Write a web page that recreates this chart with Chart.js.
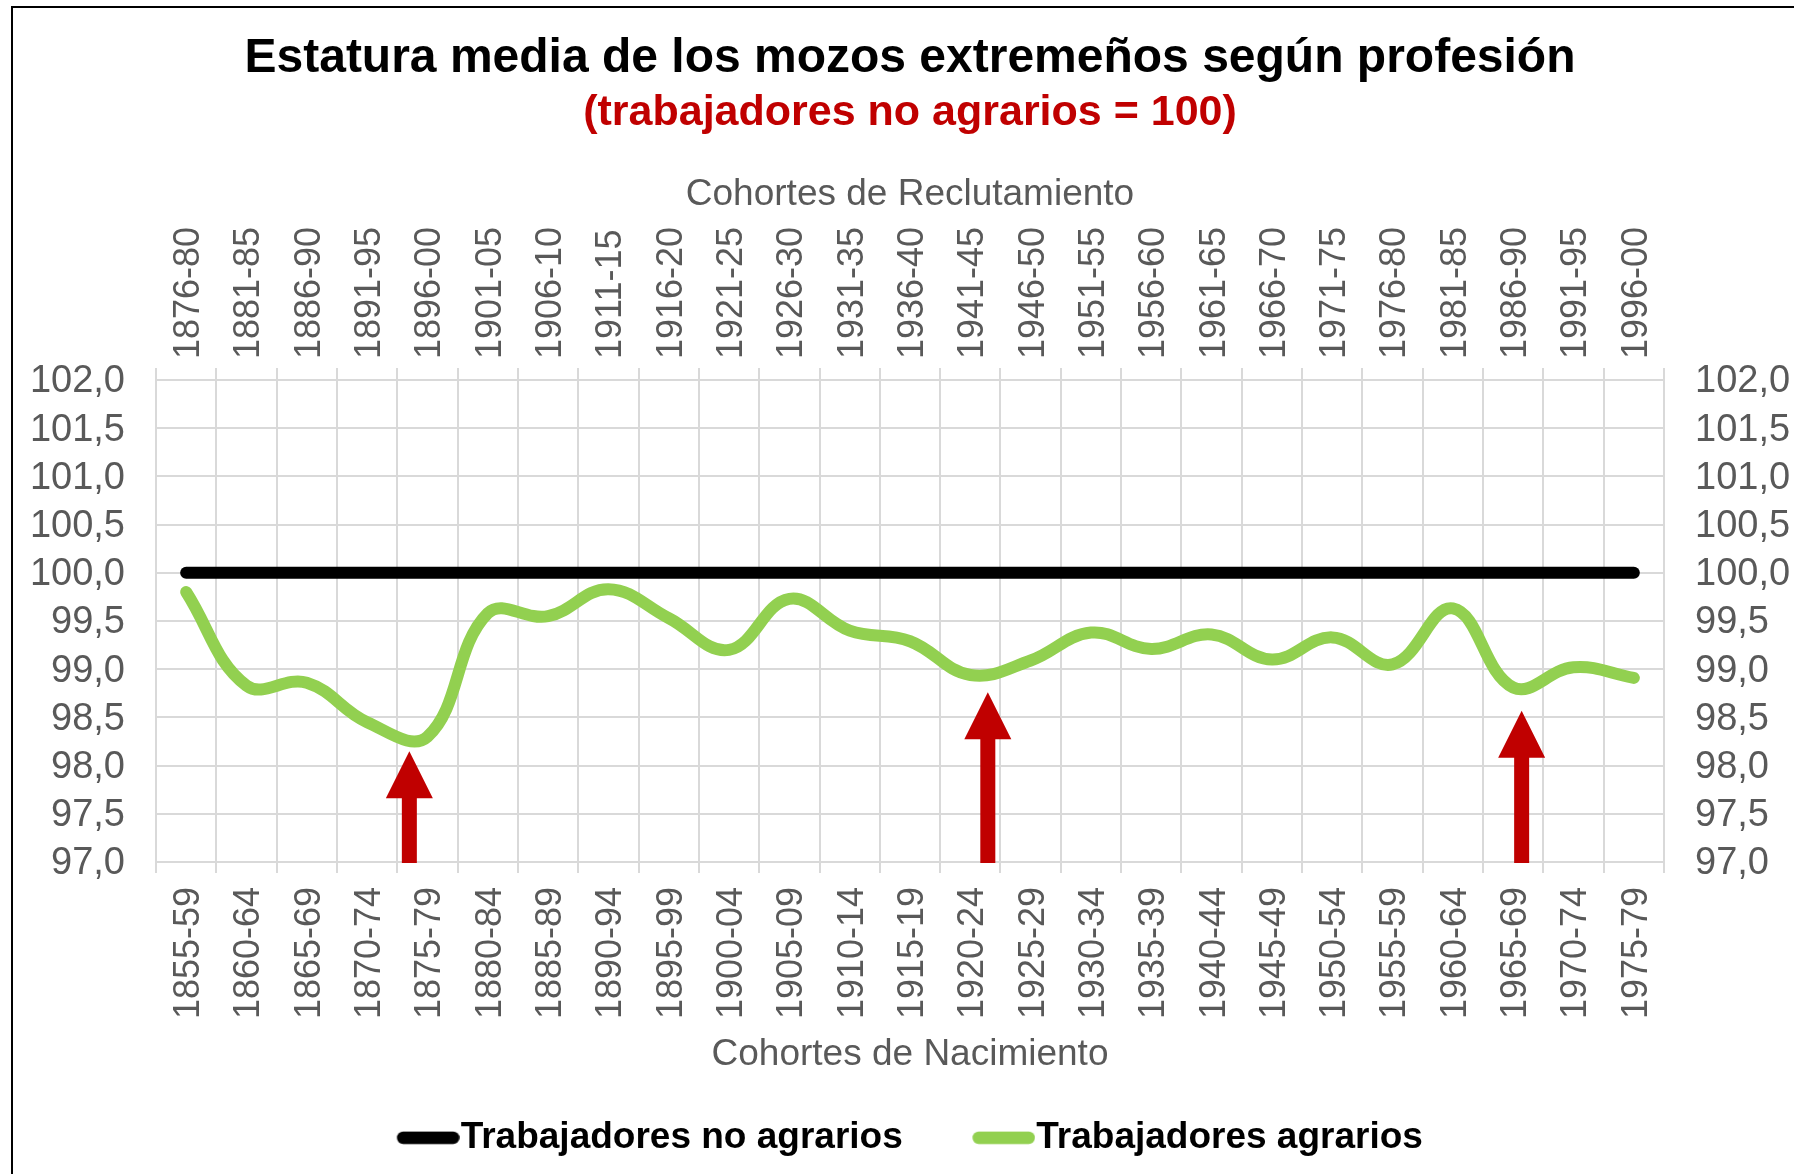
<!DOCTYPE html>
<html lang="es">
<head>
<meta charset="utf-8">
<title>Estatura media de los mozos extremeños según profesión</title>
<script src="https://cdn.jsdelivr.net/npm/chart.js@4.4.1/dist/chart.umd.min.js"></script>
<style>
  html, body { margin: 0; padding: 0; background: #fff; overflow: hidden; }
  #wrap { position: relative; width: 1794px; height: 1174px; overflow: hidden; }
  #myChart { position: absolute; left: 0; top: 0; }
  #frame { position: absolute; left: 11px; top: 6px; width: 2000px; height: 2000px;
           border-top: 2px solid #000; border-left: 2px solid #000; pointer-events: none; }
</style>
</head>
<body>
<div id="wrap">
  <canvas id="myChart" width="1820" height="1174"></canvas>
  <div id="frame"></div>
</div>
<script>
'use strict'

// birth cohorts (bottom axis) and recruitment cohorts (top axis)
let nacimiento = ['1855-59', '1860-64', '1865-69', '1870-74', '1875-79', '1880-84', '1885-89',
  '1890-94', '1895-99', '1900-04', '1905-09', '1910-14', '1915-19', '1920-24', '1925-29',
  '1930-34', '1935-39', '1940-44', '1945-49', '1950-54', '1955-59', '1960-64', '1965-69',
  '1970-74', '1975-79'];
let reclutamiento = ['1876-80', '1881-85', '1886-90', '1891-95', '1896-00', '1901-05', '1906-10',
  '1911-15', '1916-20', '1921-25', '1926-30', '1931-35', '1936-40', '1941-45', '1946-50',
  '1951-55', '1956-60', '1961-65', '1966-70', '1971-75', '1976-80', '1981-85', '1986-90',
  '1991-95', '1996-00'];

let noAgrarios = [100, 100, 100, 100, 100, 100, 100, 100, 100, 100, 100, 100, 100,
  100, 100, 100, 100, 100, 100, 100, 100, 100, 100, 100, 100];
let agrarios = [99.80, 98.83, 98.86, 98.45, 98.30, 99.58, 99.55, 99.83, 99.53, 99.20, 99.73, 99.40,
  99.29, 98.94, 99.09, 99.38, 99.21, 99.36, 99.10, 99.33, 99.05, 99.63, 98.81, 99.02, 98.91];

// red arrows: position on the cohort axis and the value their tip reaches
let arrowAt = [3.70, 13.29, 22.14];
let arrowTip = [98.15, 98.76, 98.57];

let yMin = 97;
let yMax = 102;
let yStep = 0.5;

let grey = '#595959';
let gridColor = '#d9d9d9';
let colors = ['#000000', '#92D050'];

Chart.defaults.font.family = "'Liberation Sans', Arial, sans-serif";

function formatTick(value) {
    return value.toFixed(1).replace('.', ',');
}

// pill shaped legend marker, drawn so it runs up to the label text
function legendMarker(color) {
    let c = document.createElement('canvas');
    c.width = 80;
    c.height = 14;
    let g = c.getContext('2d');
    g.strokeStyle = color;
    g.lineWidth = 12.5;
    g.lineCap = 'round';
    g.beginPath();
    g.moveTo(23.5, 7);
    g.lineTo(73.5, 7);
    g.stroke();
    return c;
}
let markers = colors.map(legendMarker);

// draws the arrows with the chart's own scales
let arrowPlugin = {
    id: 'arrows',
    afterDatasetsDraw(chart) {
        let ctx = chart.ctx;
        let x = chart.scales.x;
        let y = chart.scales.y;
        ctx.save();
        ctx.fillStyle = '#C00000';
        for (let i = 0; i < arrowAt.length; i++) {
            let cx = x.getPixelForValue(arrowAt[i]);
            let tip = y.getPixelForValue(arrowTip[i]);
            let bottom = y.getPixelForValue(yMin) + 1;
            let headH = 47;
            let headW = 23.5;
            let shaftW = 7.5;
            ctx.beginPath();
            ctx.moveTo(cx, tip);
            ctx.lineTo(cx + headW, tip + headH);
            ctx.lineTo(cx + shaftW, tip + headH);
            ctx.lineTo(cx + shaftW, bottom);
            ctx.lineTo(cx - shaftW, bottom);
            ctx.lineTo(cx - shaftW, tip + headH);
            ctx.lineTo(cx - headW, tip + headH);
            ctx.closePath();
            ctx.fill();
        }
        ctx.restore();
    }
};

let ctx = document.getElementById('myChart').getContext('2d');
let chart = new Chart(ctx, {
    type: 'line',
    data: {
        labels: nacimiento,
        datasets: [{
            label: 'Trabajadores no agrarios',
            data: noAgrarios,
            borderColor: colors[0],
            backgroundColor: colors[0],
            borderWidth: 12,
            borderCapStyle: 'round',
            pointRadius: 0,
            tension: 0
        }, {
            label: 'Trabajadores agrarios',
            data: agrarios,
            borderColor: colors[1],
            backgroundColor: colors[1],
            borderWidth: 12,
            borderCapStyle: 'round',
            borderJoinStyle: 'round',
            pointRadius: 0,
            tension: 0.4
        }]
    },
    options: {
        responsive: false,
        animation: false,
        devicePixelRatio: 1,
        layout: { padding: { left: 0, right: 0, top: 0, bottom: 7.7 } },
        scales: {
            x: {
                type: 'category',
                position: 'bottom',
                offset: true,
                grid: { offset: true, color: gridColor, lineWidth: 2, tickLength: 11 },
                border: { color: gridColor, width: 2 },
                ticks: {
                    autoSkip: false, minRotation: 90, maxRotation: 90, labelOffset: 3,
                    padding: 14, color: grey, font: { size: 36 }
                },
                title: {
                    display: true, text: 'Cohortes de Nacimiento', color: grey,
                    font: { size: 37 }, padding: { top: 0, bottom: -27.4 }
                },
                afterFit: function (scale) { scale.height = 187.3; }
            },
            x2: {
                type: 'category',
                position: 'top',
                labels: reclutamiento,
                offset: true,
                grid: { offset: true, drawOnChartArea: false, color: gridColor, lineWidth: 2, tickLength: 12 },
                border: { color: gridColor, width: 2 },
                ticks: {
                    autoSkip: false, minRotation: 90, maxRotation: 90, labelOffset: 46.2,
                    padding: 9, color: grey, font: { size: 36 }
                },
                title: {
                    display: true, text: 'Cohortes de Reclutamiento', color: grey,
                    font: { size: 37 }, padding: { top: 33.2, bottom: 0 }
                },
                afterFit: function (scale) { scale.height = 240.8; }
            },
            y: {
                position: 'left',
                min: yMin,
                max: yMax,
                grid: { color: gridColor, lineWidth: 2, drawTicks: false },
                border: { color: gridColor, width: 2 },
                ticks: {
                    stepSize: yStep, autoSkip: false, padding: 31, labelOffset: 2,
                    color: grey, font: { size: 38 }, callback: formatTick
                },
                afterFit: function (scale) { scale.width = 156; }
            },
            y2: {
                position: 'right',
                min: yMin,
                max: yMax,
                grid: { display: false, drawTicks: false },
                border: { display: false },
                ticks: {
                    stepSize: yStep, autoSkip: false, padding: 31, labelOffset: 2,
                    color: grey, font: { size: 38 }, callback: formatTick
                },
                afterFit: function (scale) { scale.width = 156; }
            }
        },
        plugins: {
            title: {
                display: true,
                text: 'Estatura media de los mozos extremeños según profesión',
                color: '#000000',
                font: { size: 48, weight: 'bold' },
                padding: { top: 30, bottom: 0 }
            },
            subtitle: {
                display: true,
                text: '(trabajadores no agrarios = 100)',
                color: '#C00000',
                font: { size: 43, weight: 'bold' },
                padding: { top: 0, bottom: 0 }
            },
            legend: {
                position: 'bottom',
                labels: {
                    usePointStyle: true,
                    pointStyleWidth: 45,
                    padding: 70,
                    color: '#000000',
                    font: { size: 37, weight: 'bold' },
                    generateLabels: function (chart) {
                        let items = Chart.defaults.plugins.legend.labels.generateLabels(chart);
                        items.forEach(function (item, i) { item.pointStyle = markers[i]; });
                        return items;
                    }
                }
            },
            tooltip: { enabled: false }
        }
    },
    plugins: [arrowPlugin]
});
</script>
</body>
</html>
